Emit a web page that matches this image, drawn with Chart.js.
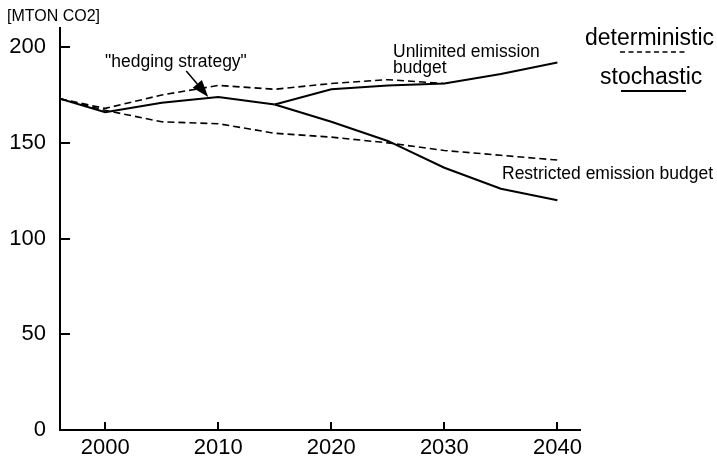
<!DOCTYPE html>
<html>
<head>
<meta charset="utf-8">
<script src="https://cdn.jsdelivr.net/npm/chart.js@4/dist/chart.umd.min.js"></script>
<style>
  html, body { margin: 0; padding: 0; background: #fff; }
  #wrap { width: 717px; height: 461px; }
</style>
</head>
<body>
<div id="wrap"><canvas id="c" width="717" height="461"></canvas></div>
<script>
// CO2 emission paths [MTON CO2], deterministic vs stochastic planning
const detUnlimitedYears = [1996, 2000, 2005, 2010, 2015, 2020, 2025, 2030];
const detUnlimitedValues = [173, 168, 175, 180, 178, 181, 183, 181];

const detRestrictedYears = [1996, 2000, 2005, 2010, 2015, 2020, 2025, 2030, 2035, 2040];
const detRestrictedValues = [173, 167, 161, 160, 155, 153, 150, 146, 143.5, 141];

// common first-stage ("hedging") path of the stochastic model
const hedgeYears = [1996, 2000, 2005, 2010, 2015];
const hedgeValues = [173, 166, 171, 174, 170];

const stochUnlimitedYears = [2015, 2020, 2025, 2030, 2035, 2040];
const stochUnlimitedValues = [170, 178, 180, 181, 186, 192];

const stochRestrictedYears = [2015, 2020, 2025, 2030, 2035, 2040];
const stochRestrictedValues = [170, 161, 151, 137, 126, 120];

const xTickYears = [2000, 2010, 2020, 2030, 2040];
const yTickValues = [0, 50, 100, 150, 200];

const FONT = '"Liberation Sans", Arial, Helvetica, sans-serif';

function pts(xs, ys) { return xs.map((x, i) => ({ x: x, y: ys[i] })); }

function lineSet(label, xs, ys, dashed) {
  return {
    label: label,
    data: pts(xs, ys),
    borderColor: '#000',
    borderWidth: dashed ? 1.6 : 2,
    borderDash: dashed ? [7, 4] : [],
    pointRadius: 0,
    tension: 0,
    fill: false
  };
}

// inward tick marks on both axes
const innerTicks = {
  id: 'innerTicks',
  afterDraw(chart) {
    const ctx = chart.ctx, xs = chart.scales.x, ys = chart.scales.y;
    const a = chart.chartArea;
    ctx.save();
    ctx.strokeStyle = '#000';
    ctx.lineWidth = 2;
    ctx.beginPath();
    yTickValues.forEach(v => {
      const py = Math.round(ys.getPixelForValue(v));
      if (v === 0) return;
      ctx.moveTo(a.left, py); ctx.lineTo(a.left + 10, py);
    });
    xTickYears.forEach(v => {
      const px = Math.round(xs.getPixelForValue(v));
      ctx.moveTo(px, a.bottom); ctx.lineTo(px, a.bottom - 8);
    });
    ctx.stroke();
    ctx.restore();
  }
};

// annotations, unit label and the line-style key
const notes = {
  id: 'notes',
  afterDraw(chart) {
    const ctx = chart.ctx, xs = chart.scales.x, ys = chart.scales.y;
    ctx.save();
    ctx.fillStyle = '#000';
    ctx.textBaseline = 'alphabetic';
    ctx.textAlign = 'left';

    ctx.font = '16px ' + FONT;
    ctx.fillText('[MTON CO2]', 7, 21);

    ctx.font = '17.5px ' + FONT;
    ctx.fillText('"hedging strategy"', 105, 67);
    ctx.fillText('Unlimited emission', 393, 57);
    ctx.fillText('budget', 393, 73);
    ctx.fillText('Restricted emission budget', 502, 179);

    // arrow towards the 2010 hedging decision
    const tipX = xs.getPixelForValue(2010) - 10;
    const tipY = ys.getPixelForValue(174);
    const tailX = tipX - 22, tailY = tipY - 26;
    const ang = Math.atan2(tipY - tailY, tipX - tailX);
    const hl = 17, hw = 6;
    const bx = tipX - hl * Math.cos(ang), by = tipY - hl * Math.sin(ang);
    ctx.strokeStyle = '#000';
    ctx.lineWidth = 1.5;
    ctx.beginPath();
    ctx.moveTo(tailX, tailY); ctx.lineTo(bx, by);
    ctx.stroke();
    ctx.beginPath();
    ctx.moveTo(tipX, tipY);
    ctx.lineTo(bx + hw * Math.sin(ang), by - hw * Math.cos(ang));
    ctx.lineTo(bx - hw * Math.sin(ang), by + hw * Math.cos(ang));
    ctx.closePath();
    ctx.fill();

    // key
    ctx.font = '23px ' + FONT;
    ctx.fillText('deterministic', 585, 45);
    ctx.fillText('stochastic', 600, 84);
    ctx.lineWidth = 1.5;
    ctx.setLineDash([5, 3.5]);
    ctx.beginPath();
    ctx.moveTo(620, 52); ctx.lineTo(686, 52);
    ctx.stroke();
    ctx.setLineDash([]);
    ctx.lineWidth = 2;
    ctx.beginPath();
    ctx.moveTo(621, 91); ctx.lineTo(686, 91);
    ctx.stroke();
    ctx.restore();
  }
};

new Chart(document.getElementById('c'), {
  type: 'line',
  data: {
    datasets: [
      lineSet('deterministic, unlimited', detUnlimitedYears, detUnlimitedValues, true),
      lineSet('deterministic, restricted', detRestrictedYears, detRestrictedValues, true),
      lineSet('stochastic, hedging', hedgeYears, hedgeValues, false),
      lineSet('stochastic, unlimited', stochUnlimitedYears, stochUnlimitedValues, false),
      lineSet('stochastic, restricted', stochRestrictedYears, stochRestrictedValues, false)
    ]
  },
  options: {
    responsive: false,
    animation: false,
    layout: { padding: { left: 0, top: 28, right: 137, bottom: 0 } },
    plugins: { legend: { display: false }, tooltip: { enabled: false } },
    scales: {
      x: {
        type: 'linear',
        min: 1996,
        max: 2042,
        afterBuildTicks(s) { s.ticks = xTickYears.map(v => ({ value: v })); },
        afterFit(s) { s.height = 31; },
        grid: { display: false, drawTicks: false, tickLength: 0 },
        border: { display: true, color: '#000', width: 2 },
        ticks: {
          color: '#000',
          font: { family: FONT, size: 22 },
          padding: 5,
          maxRotation: 0,
          callback: v => String(v)
        }
      },
      y: {
        type: 'linear',
        min: 0,
        max: 210,
        afterBuildTicks(s) { s.ticks = yTickValues.map(v => ({ value: v })); },
        afterFit(s) { s.width = 60; },
        grid: { display: false, drawTicks: false, tickLength: 0 },
        border: { display: true, color: '#000', width: 2 },
        ticks: {
          color: '#000',
          font: { family: FONT, size: 22 },
          padding: 14,
          callback: v => String(v)
        }
      }
    }
  },
  plugins: [innerTicks, notes]
});
</script>
</body>
</html>
